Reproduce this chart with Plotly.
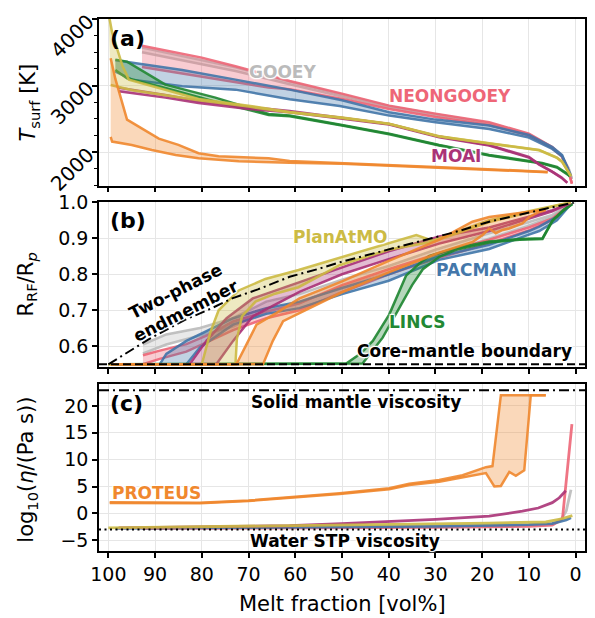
import plotly.graph_objects as go

# ---------------------------------------------------------------- colours
COLORS = {
    "GOOEY": "#BBBBBB",
    "NEONGOOEY": "#EE6677",
    "PACMAN": "#4477AA",
    "LINCS": "#228833",
    "MOAI": "#AA3377",
    "PlanAtMO": "#CCBB44",
    "PROTEUS": "#F0882E",
}
DRAW_ORDER = ["GOOEY", "NEONGOOEY", "PACMAN", "LINCS", "MOAI", "PlanAtMO", "PROTEUS"]

# ---------------------------------------------------------------- (a) surface temperature [K]
# (melt fraction [vol%], value) pairs, upper and lower edge of each model band
tsurf_gooey_hi = [(92.8, 3570), (72.8, 3275), (61.2, 3060), (50, 2870), (39.9, 2690), (30, 2570),
                  (18.5, 2440), (10, 2270), (5, 2070), (3, 1950), (1.5, 1760), (0.8, 1600)]
tsurf_gooey_lo = [(92.8, 3500), (72.8, 3220), (61.2, 3020), (50, 2840), (39.9, 2670), (30, 2550),
                  (18.5, 2425), (10, 2260), (5, 2060), (3, 1940), (1.5, 1750), (0.8, 1600)]
tsurf_neon_hi = [(92.8, 3600), (80, 3420), (72.8, 3290), (61.2, 3070), (50, 2880), (39.9, 2700),
                 (30, 2580), (18.5, 2450), (10, 2280), (5, 2080), (3, 1950), (1.8, 1780), (0.8, 1530)]
tsurf_neon_lo = [(92.8, 3280), (80, 3130), (65.7, 2970), (61.2, 2945), (50, 2800), (39.9, 2650),
                 (30, 2530), (18.5, 2410), (10, 2250), (5, 2060), (3, 1940), (1.8, 1770), (0.8, 1530)]
tsurf_pacman_hi = [(98.5, 3380), (92.8, 3320), (84.2, 3235), (72.8, 3090), (61.2, 2940), (50, 2780),
                   (39.9, 2600), (30, 2490), (18.5, 2400), (10, 2260), (5, 2080), (2.9, 1960), (1, 1640)]
tsurf_pacman_lo = [(98.5, 3210), (94.9, 3090), (84.2, 2990), (72.8, 2940), (61.2, 2795), (50.5, 2695),
                   (39.9, 2550), (30, 2450), (18.5, 2350), (10, 2220), (5, 2050), (2.9, 1940), (1, 1640)]
tsurf_lincs_hi = [(98.5, 3390), (96, 3360), (87.8, 3015), (77.1, 2820), (65.7, 2575), (61.2, 2550),
                  (50, 2410), (39.9, 2280), (29.2, 2110), (18.5, 1960), (10, 1870), (7.2, 1840),
                  (4, 1780), (2, 1690), (1.2, 1640)]
tsurf_lincs_lo = [(98.5, 3235), (96, 3110), (87.8, 2965), (77.1, 2760), (65.7, 2560), (61.2, 2540),
                  (50, 2400), (39.9, 2270), (29.2, 2100), (18.5, 1950), (10, 1860), (7.2, 1830),
                  (4, 1770), (2, 1680), (1.2, 1640)]
tsurf_moai_hi = [(97.8, 2970), (87.8, 2860), (80.7, 2770), (70, 2680), (61.2, 2620), (50, 2520),
                 (39.9, 2425), (29.2, 2235), (18.5, 2110), (10, 1930), (7.8, 1820), (5, 1710),
                 (3, 1620), (1.8, 1545)]
tsurf_moai_lo = [(97.8, 2915), (87.8, 2820), (80.7, 2740), (70, 2650), (61.2, 2600), (50, 2505),
                 (39.9, 2415), (29.2, 2225), (18.5, 2100), (10, 1920), (7.8, 1815), (5, 1705),
                 (3, 1615), (1.8, 1540)]
tsurf_planatmo_hi = [(100, 4100), (99.2, 3800), (97, 3300), (95.6, 3090), (80.7, 2800), (70, 2700),
                     (61.2, 2605), (50, 2520), (39.9, 2430), (29.2, 2240), (18.5, 2135), (7.8, 2035),
                     (4, 1920), (2.9, 1860), (1, 1640)]
tsurf_planatmo_lo = [(99.5, 3010), (94.9, 2930), (80.7, 2780), (70, 2685), (61.2, 2595), (50, 2515),
                     (39.9, 2425), (29.2, 2235), (18.5, 2130), (7.8, 2030), (4, 1915), (2.9, 1855),
                     (1, 1640)]
tsurf_proteus_hi = [(99.5, 3410), (98.5, 3100), (96, 2490), (92.8, 2350), (89.2, 2205), (85, 2110),
                    (80.7, 1985), (76.4, 1940), (65.7, 1910), (61.2, 1868), (50, 1840), (40, 1810),
                    (30, 1780), (20, 1750), (10, 1720), (6, 1705)]
tsurf_proteus_lo = [(99.5, 2230), (99.2, 2160), (95, 2110), (90.7, 2035), (85.6, 1960), (80.7, 1910),
                    (72.1, 1865), (65.7, 1848), (61.2, 1842), (50, 1828), (40, 1800), (30, 1770),
                    (20, 1740), (10, 1712), (6, 1700)]

# ---------------------------------------------------------------- (b) rheological front radius
rrf_gooey_hi = [(92.6, 0.605), (87.6, 0.633), (80.4, 0.651), (73.3, 0.678), (66.2, 0.724), (59.1, 0.745),
                (50, 0.785), (40, 0.823), (30, 0.868), (18.5, 0.914), (10, 0.945), (5, 0.965), (1, 0.995)]
rrf_gooey_lo = [(92.6, 0.58), (87.6, 0.605), (80.4, 0.63), (73.3, 0.655), (66.2, 0.70), (59.1, 0.722),
                (50, 0.765), (40, 0.805), (30, 0.85), (18.5, 0.90), (10, 0.935), (5, 0.96), (1, 0.995)]
rrf_neon_hi = [(92.6, 0.575), (89, 0.588), (83.3, 0.606), (78, 0.635), (73.3, 0.669), (66.2, 0.696),
               (59.1, 0.719), (50, 0.77), (40, 0.814), (30, 0.855), (18.5, 0.896), (10, 0.93),
               (5, 0.955), (1, 0.995)]
rrf_neon_lo = [(92.6, 0.55), (89, 0.565), (83.3, 0.585), (73.3, 0.645), (66.2, 0.678), (59.1, 0.70),
               (50, 0.75), (40, 0.80), (30, 0.843), (18.5, 0.885), (10, 0.922), (5, 0.95), (1, 0.995)]
rrf_pacman_hi = [(98.5, 0.55), (89, 0.55), (87.6, 0.579), (83.3, 0.615), (79, 0.642), (73.3, 0.678),
                 (66.2, 0.706), (59.1, 0.724), (50, 0.762), (40, 0.80), (29.2, 0.85), (18.5, 0.882),
                 (10, 0.92), (7.8, 0.932), (4, 0.96), (1, 0.995)]
rrf_pacman_lo = [(98.5, 0.55), (83.3, 0.55), (80.4, 0.597), (73.3, 0.66), (66.2, 0.69), (59.1, 0.706),
                 (50, 0.745), (40, 0.782), (29.2, 0.84), (18.5, 0.87), (10, 0.91), (7.8, 0.92),
                 (4, 0.95), (1, 0.995)]
rrf_lincs_hi = [(98.5, 0.55), (49.1, 0.552), (46, 0.58), (43.4, 0.615), (39.9, 0.688), (36.3, 0.796),
                (33, 0.835), (31.3, 0.851), (25.6, 0.873), (18.5, 0.891), (12, 0.898), (7.1, 0.90),
                (4.95, 0.95), (2.5, 0.98), (0.7, 0.995)]
rrf_lincs_lo = [(98.5, 0.55), (45.6, 0.552), (41.3, 0.624), (37.7, 0.706), (35, 0.77), (32.7, 0.814),
                (29.2, 0.848), (25.6, 0.868), (18.5, 0.888), (12, 0.896), (7.1, 0.898), (4.95, 0.948),
                (2.5, 0.978), (0.7, 0.995)]
rrf_moai_hi = [(97.8, 0.55), (82.6, 0.55), (79, 0.615), (74.7, 0.678), (69.1, 0.733), (59.1, 0.778),
               (50, 0.818), (40, 0.864), (29.2, 0.905), (18.5, 0.93), (10, 0.96), (5, 0.978), (1, 0.998)]
rrf_moai_lo = [(97.8, 0.55), (76.9, 0.55), (73.3, 0.615), (69.1, 0.683), (59.1, 0.751), (50, 0.80),
               (40, 0.842), (29.2, 0.885), (18.5, 0.92), (10, 0.955), (5, 0.975), (1, 0.998)]
rrf_planatmo_hi = [(100, 0.55), (80, 0.55), (78.2, 0.638), (76.4, 0.70), (72.1, 0.755), (66.4, 0.787),
                   (59.3, 0.812), (50.5, 0.846), (40, 0.885), (34.1, 0.909), (30.6, 0.893), (25, 0.92),
                   (18.5, 0.95), (10, 0.975), (5, 0.99), (1, 1.0)]
rrf_planatmo_lo = [(100, 0.55), (72.8, 0.55), (72.5, 0.62), (71.4, 0.683), (68.5, 0.724), (64.3, 0.746),
                   (59.3, 0.764), (50.5, 0.825), (40, 0.868), (30.6, 0.89), (25, 0.915), (18.5, 0.945),
                   (10, 0.972), (5, 0.988), (1, 1.0)]
rrf_proteus_hi = [(99.5, 0.55), (72.6, 0.55), (68.3, 0.66), (64.1, 0.692), (59.1, 0.733), (50, 0.78),
                  (40, 0.837), (29.2, 0.896), (22.1, 0.946), (18.5, 0.959), (12, 0.97), (7.8, 0.977),
                  (6.4, 0.98)]
rrf_proteus_lo = [(99.5, 0.55), (66.9, 0.55), (64.8, 0.615), (62.6, 0.67), (59.1, 0.692), (50, 0.75),
                  (40, 0.805), (29.2, 0.86), (22, 0.89), (19.9, 0.909), (18.5, 0.927), (17.1, 0.914),
                  (15.6, 0.923), (14.2, 0.927), (11.4, 0.941), (9.9, 0.959), (7.8, 0.973), (6.4, 0.978)]

# two-phase endmember curve
two_phase = [(100, 0.55), (95, 0.59), (91.3, 0.62), (87, 0.65), (83.5, 0.674), (78, 0.705),
             (73.5, 0.733), (68, 0.758), (64.3, 0.778), (61.2, 0.793), (55, 0.815), (50, 0.835),
             (45, 0.852), (39.9, 0.869), (35, 0.886), (29.2, 0.906), (25, 0.92), (18.5, 0.946),
             (10, 0.972), (5, 0.986), (0, 1.0)]
cmb_radius = 0.55

# ---------------------------------------------------------------- (c) log10 viscosity
visc_gooey = [(92.8, -2.7), (60, -2.6), (30, -2.4), (10, -2.2), (5, -1.9), (3, -1.0), (2, 0.5), (1, 4.4)]
visc_neon = [(92.8, -2.85), (60, -2.75), (30, -2.6), (10, -2.4), (5, -2.2), (3, -1.2), (2.8, -0.8),
             (0.8, 16.6)]
visc_pacman = [(98.5, -2.8), (60, -2.6), (30, -2.4), (10, -2.1), (5, -1.9), (2, -1.2), (1, -0.8)]
visc_moai = [(97.8, -2.7), (80, -2.5), (61.2, -2.3), (50, -1.9), (39.9, -1.5), (30, -1.1), (18.5, -0.5),
             (11.4, 0.4), (8, 1.0), (5, 2.0), (3.5, 2.9), (2.1, 4.2)]
visc_planatmo = [(100, -2.7), (80, -2.5), (60, -2.3), (40, -2.1), (18.5, -1.8), (6.4, -1.6), (3, -1.0),
                 (0.7, -0.4)]
visc_proteus_hi = [(99.7, 2.05), (90, 2.0), (80.4, 2.0), (70, 2.4), (61.2, 2.97), (50.5, 3.76),
                   (39.9, 4.67), (35.6, 5.5), (29.2, 6.2), (24.2, 7.1), (19.2, 8.6), (17.8, 8.8),
                   (16, 22.0), (6.4, 22.0)]
visc_proteus_lo = [(99.7, 1.95), (90, 1.9), (80.4, 1.9), (70, 2.3), (61.2, 2.85), (50.5, 3.6),
                   (39.9, 4.5), (35.6, 5.3), (29.2, 5.9), (24.2, 6.7), (19.2, 7.5), (17.4, 5.0),
                   (16, 5.1), (14.2, 7.7), (12.8, 7.0), (11, 8.0), (9.6, 22.0), (6.4, 22.0)]
solid_mantle_log_visc = 22.9
water_stp_log_visc = -3.0

# ---------------------------------------------------------------- figure helpers
FONT = "DejaVu Sans"
HALO = ("white 1px 1px 1px, white -1px -1px 1px, white 1px -1px 1px, white -1px 1px 1px, "
        "white 0px 0px 3px")


def rgba(hex_color, alpha):
    h = hex_color.lstrip("#")
    r, g, b = int(h[0:2], 16), int(h[2:4], 16), int(h[4:6], 16)
    return f"rgba({r},{g},{b},{alpha})"


def xs(pts):
    return [p[0] for p in pts]


def ys(pts):
    return [p[1] for p in pts]


fig = go.Figure()


def add_line(pts, color, xa, ya, width=2.5, opacity=0.9):
    fig.add_trace(go.Scatter(x=xs(pts), y=ys(pts), mode="lines", xaxis=xa, yaxis=ya,
                             line=dict(color=color, width=width), opacity=opacity,
                             showlegend=False, hoverinfo="skip"))


def add_band(hi, lo, color, xa, ya):
    poly = hi + lo[::-1]
    fig.add_trace(go.Scatter(x=xs(poly), y=ys(poly), mode="lines", fill="toself",
                             fillcolor=rgba(color, 0.33), line=dict(width=0), xaxis=xa, yaxis=ya,
                             showlegend=False, hoverinfo="skip"))
    add_line(lo, color, xa, ya)
    add_line(hi, color, xa, ya)


tsurf = {
    "GOOEY": (tsurf_gooey_hi, tsurf_gooey_lo),
    "NEONGOOEY": (tsurf_neon_hi, tsurf_neon_lo),
    "PACMAN": (tsurf_pacman_hi, tsurf_pacman_lo),
    "LINCS": (tsurf_lincs_hi, tsurf_lincs_lo),
    "MOAI": (tsurf_moai_hi, tsurf_moai_lo),
    "PlanAtMO": (tsurf_planatmo_hi, tsurf_planatmo_lo),
    "PROTEUS": (tsurf_proteus_hi, tsurf_proteus_lo),
}
rrf = {
    "GOOEY": (rrf_gooey_hi, rrf_gooey_lo),
    "NEONGOOEY": (rrf_neon_hi, rrf_neon_lo),
    "PACMAN": (rrf_pacman_hi, rrf_pacman_lo),
    "LINCS": (rrf_lincs_hi, rrf_lincs_lo),
    "MOAI": (rrf_moai_hi, rrf_moai_lo),
    "PlanAtMO": (rrf_planatmo_hi, rrf_planatmo_lo),
    "PROTEUS": (rrf_proteus_hi, rrf_proteus_lo),
}
visc = {
    "GOOEY": visc_gooey,
    "NEONGOOEY": visc_neon,
    "PACMAN": visc_pacman,
    "MOAI": visc_moai,
    "PlanAtMO": visc_planatmo,
}

for name in DRAW_ORDER:
    hi, lo = tsurf[name]
    add_band(hi, lo, COLORS[name], "x", "y")
for name in DRAW_ORDER:
    hi, lo = rrf[name]
    add_band(hi, lo, COLORS[name], "x2", "y2")
for name in DRAW_ORDER:
    if name in visc:
        add_line(visc[name], COLORS[name], "x3", "y3", width=2.8)
add_band(visc_proteus_hi, visc_proteus_lo, COLORS["PROTEUS"], "x3", "y3")

# two-phase endmember
fig.add_trace(go.Scatter(x=xs(two_phase), y=ys(two_phase), mode="lines", xaxis="x2", yaxis="y2",
                         line=dict(color="black", width=2, dash="10px,4px,2px,4px"),
                         showlegend=False, hoverinfo="skip"))

shapes = [
    dict(type="line", xref="x2 domain", yref="y2", x0=0, x1=1, y0=cmb_radius, y1=cmb_radius,
         line=dict(color="black", width=2, dash="8px,4px")),
    dict(type="line", xref="x3 domain", yref="y3", x0=0, x1=1, y0=solid_mantle_log_visc,
         y1=solid_mantle_log_visc, line=dict(color="black", width=2, dash="10px,4px,2px,4px")),
    dict(type="line", xref="x3 domain", yref="y3", x0=0, x1=1, y0=water_stp_log_visc,
         y1=water_stp_log_visc, line=dict(color="black", width=2, dash="2px,3.5px")),
]


def label(text, x, y, xa, ya, color, size=17, angle=0, halo=True):
    return dict(text=f"<b>{text}</b>", x=x, y=y, xref=xa, yref=ya, showarrow=False,
                textangle=angle, xanchor="center", yanchor="middle",
                font=dict(family=FONT, size=size, color=color,
                          shadow=HALO if halo else "none"))


def title(text, x, y, angle):
    return dict(text=text, x=x, y=y, xref="paper", yref="paper", showarrow=False,
                textangle=angle, xanchor="center", yanchor="middle",
                font=dict(family=FONT, size=21, color="black"))


annotations = [
    label("(a)", 96.0, 3713, "x", "y", "black", size=22, halo=False),
    label("(b)", 95.7, 0.948, "x2", "y2", "black", size=22, halo=False),
    label("(c)", 96.1, 20.4, "x3", "y3", "black", size=22, halo=False),
    label("GOOEY", 62.8, 3206, "x", "y", COLORS["GOOEY"]),
    label("NEONGOOEY", 26.9, 2843, "x", "y", COLORS["NEONGOOEY"]),
    label("MOAI", 25.6, 1949, "x", "y", COLORS["MOAI"]),
    label("PlanAtMO", 50.4, 0.903, "x2", "y2", COLORS["PlanAtMO"]),
    label("PACMAN", 21.3, 0.813, "x2", "y2", COLORS["PACMAN"]),
    label("LINCS", 34.0, 0.667, "x2", "y2", COLORS["LINCS"]),
    label("Core-mantle boundary", 23.8, 0.586, "x2", "y2", "black"),
    label("Two-phase<br>endmember", 84.6, 0.727, "x2", "y2", "black", angle=-27),
    label("Solid mantle viscosity", 47.0, 20.7, "x3", "y3", "black"),
    label("Water STP viscosity", 49.3, -5.1, "x3", "y3", "black"),
    label("PROTEUS", 89.7, 3.8, "x3", "y3", COLORS["PROTEUS"]),
    title("<i>T</i><sub>surf</sub> [K]", -0.144, 0.843, -90),
    title("R<sub>RF</sub>/R<sub><i>p</i></sub>", -0.148, 0.501, -90),
    title("log<sub>10</sub>(<i>η</i>/(Pa s))", -0.148, 0.153, -90),
    title("Melt fraction [vol%]", 0.5, -0.0994, 0),
]

axis_common = dict(showline=True, mirror=True, linecolor="black", linewidth=1.5,
                   ticks="outside", ticklen=5, tickwidth=1.5, tickcolor="black",
                   showgrid=True, gridcolor="#e6e6e6", gridwidth=1, zeroline=False,
                   tickfont=dict(family=FONT, size=19, color="black"))
x_common = dict(axis_common, range=[102, -2], tickmode="array",
                tickvals=[100, 90, 80, 70, 60, 50, 40, 30, 20, 10, 0])

fig.update_layout(
    width=595, height=618,
    margin=dict(l=99, r=10, t=8, b=67),
    plot_bgcolor="white", paper_bgcolor="white",
    font=dict(family=FONT, color="black"),
    showlegend=False,
    xaxis=dict(x_common, anchor="y", matches="x3", showticklabels=False),
    xaxis2=dict(x_common, anchor="y2", matches="x3", showticklabels=False),
    xaxis3=dict(x_common, anchor="y3"),
    yaxis=dict(axis_common, domain=[0.6869, 1.0], anchor="x", range=[1500, 4000],
               tickvals=[2000, 3000, 4000], tickangle=-45,
               tickfont=dict(family=FONT, size=20, color="black"),
               minor=dict(dtick=250, ticks="outside", ticklen=3, tickwidth=1, tickcolor="black",
                          showgrid=False)),
    yaxis2=dict(axis_common, domain=[0.3462, 0.6556], anchor="x2", range=[0.543, 1.0],
                tickvals=[0.6, 0.7, 0.8, 0.9, 1.0], ticktext=["0.6", "0.7", "0.8", "0.9", "1.0"]),
    yaxis3=dict(axis_common, domain=[0.0, 0.3131], anchor="x3", range=[-7, 24],
                tickvals=[-5, 0, 5, 10, 15, 20], ticktext=["−5", "0", "5", "10", "15", "20"]),
    shapes=shapes,
    annotations=annotations,
)

fig.write_html("out.html")
